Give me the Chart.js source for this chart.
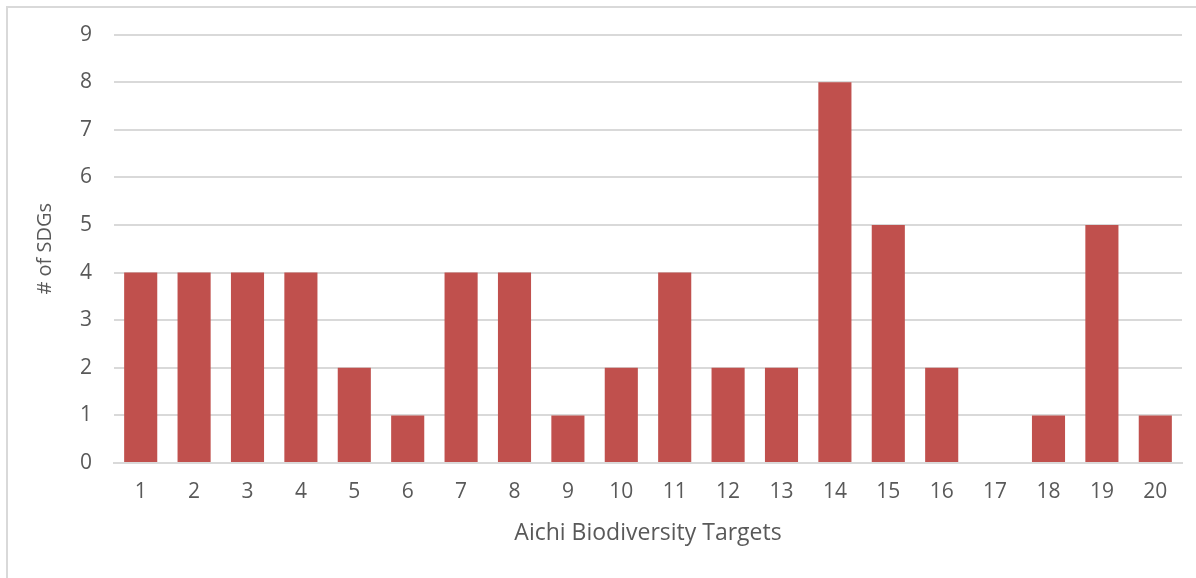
<!DOCTYPE html>
<html>
<head>
<meta charset="utf-8">
<script src="https://cdn.jsdelivr.net/npm/chart.js@4"></script>
<style>
  html, body { margin: 0; padding: 0; background: #fff; }
  #frame { position: absolute; left: 6px; top: 6px; width: 1200px; height: 580px;
           border-left: 2px solid #d9d9d9; border-top: 2px solid #d9d9d9; }
  #wrap { position: absolute; left: 0; top: 0; width: 1196px; height: 578px; }
</style>
</head>
<body>
<div id="frame"></div>
<div id="wrap"><canvas id="chart"></canvas></div>
<script>
const targets = ["1","2","3","4","5","6","7","8","9","10","11","12","13","14","15","16","17","18","19","20"];
const sdgCounts = [4, 4, 4, 4, 2, 1, 4, 4, 1, 2, 4, 2, 2, 8, 5, 2, 0, 1, 5, 1];
const yTicks = [0, 1, 2, 3, 4, 5, 6, 7, 8, 9];

const textColor = "#595959";
const ctx = document.getElementById("chart").getContext("2d");

new Chart(ctx, {
  type: "bar",
  data: {
    labels: targets,
    datasets: [{
      label: "# of SDGs",
      data: sdgCounts,
      backgroundColor: "#c0504d",
      categoryPercentage: 0.62,
      barPercentage: 1.0
    }]
  },
  options: {
    responsive: true,
    maintainAspectRatio: false,
    animation: false,
    layout: { padding: { top: 28, right: 14, left: 0, bottom: 0 } },
    plugins: {
      legend: { display: false },
      tooltip: { enabled: false }
    },
    scales: {
      x: {
        grid: { display: false, drawTicks: false },
        border: { display: true, color: "#d9d9d9", width: 2 },
        ticks: { color: textColor, font: { family: "Open Sans", size: 21 }, padding: 16 },
        title: { display: true, text: "Aichi Biodiversity Targets", color: textColor,
                 font: { family: "Open Sans", size: 23 }, padding: { top: 0, bottom: 31 } },
        afterFit: (scale) => { scale.height = 115; }
      },
      y: {
        min: 0,
        max: 9,
        afterBuildTicks: (scale) => { scale.ticks = yTicks.map(v => ({ value: v })); },
        grid: { color: "#d9d9d9", lineWidth: 2, drawTicks: false },
        border: { display: false },
        ticks: { color: textColor, font: { family: "Open Sans", size: 21 }, padding: 22 },
        title: { display: true, text: "# of SDGs", color: textColor,
                 font: { family: "Open Sans", size: 20 }, padding: { top: 33, bottom: 0 } },
        afterFit: (scale) => { scale.width = 114; }
      }
    }
  }
});
</script>
</body>
</html>
